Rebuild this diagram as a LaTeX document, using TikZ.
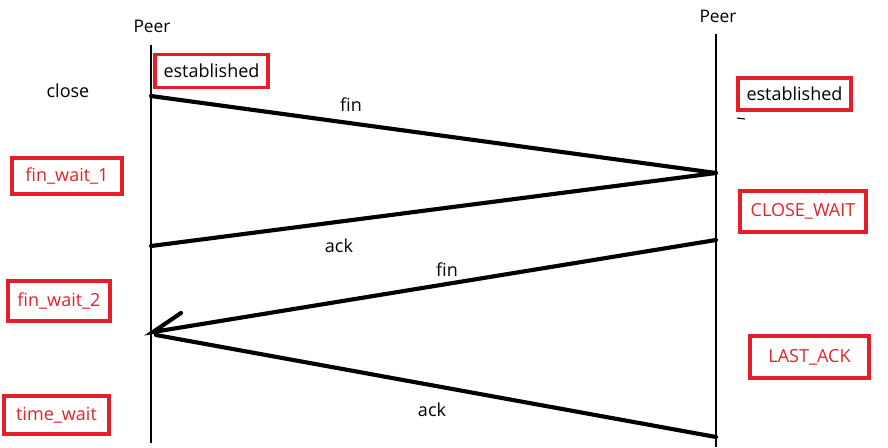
\documentclass[tikz,border=0pt]{standalone}
\usepackage{fontspec}
\setmainfont{Open Sans}
\begin{document}
\begin{tikzpicture}[x=0.75pt,y=-0.75pt,
  rbox/.style={draw=boxred,line width=2.4pt,minimum width=#1,inner sep=0pt},
  lifeline/.style={line width=2.2pt,black},
  msg/.style={line width=3.1pt,black,line cap=round},
  lbl/.style={font=\fontsize{13.5}{16}\selectfont,inner sep=0pt},
  redtxt/.style={text=txtred,font=\fontsize{13.5}{16}\selectfont},
  blktxt/.style={text=black,font=\fontsize{13.5}{16}\selectfont}]
\definecolor{boxred}{HTML}{E3202A}
\definecolor{txtred}{HTML}{E0242C}
\useasboundingbox (0,0) rectangle (888,447);
% lifelines
\coordinate (lt) at (151,45);
\coordinate (lb) at (151,443);
\coordinate (rt) at (716,34);
\coordinate (rb) at (716,447);
\draw[lifeline] (lt) -- (lb);
\draw[lifeline] (rt) -- (rb);
\node[lbl,font=\fontsize{13}{15}\selectfont] (peerL) at (152,26) {Peer};
\node[lbl,font=\fontsize{13}{15}\selectfont] (peerR) at (718,16) {Peer};
\node[lbl] (close) at (68,91) {close};
% state boxes
\node[rbox=113pt*0.75,minimum height=33*0.75pt,blktxt] (estL) at (211.5,71) {established};
\node[rbox=113pt*0.75,minimum height=32*0.75pt,blktxt] (estR) at (794.5,94) {established};
\node[rbox=126pt*0.75,minimum height=41*0.75pt,redtxt] (cw) at (803,211.5) {CLOSE\_WAIT};
\node[rbox=110pt*0.75,minimum height=36*0.75pt,redtxt] (fw1) at (67,176) {fin\_wait\_1};
\node[rbox=102pt*0.75,minimum height=40*0.75pt,redtxt] (fw2) at (59,301) {fin\_wait\_2};
\node[rbox=105pt*0.75,minimum height=38*0.75pt,redtxt] (tw) at (56.5,415) {time\_wait};
\node[rbox=119pt*0.75,minimum height=42*0.75pt,redtxt] (la) at (809.5,357) {LAST\_ACK};
% small mark
\coordinate (m1) at (737,118);
\coordinate (m2) at (745,119);
\draw[line width=0.8pt] (m1) -- (m2);
% messages
\coordinate (a1) at (151,96);
\coordinate (b1) at (716,173);
\coordinate (a2) at (151,246);
\coordinate (b2) at (716,240);
\coordinate (a3) at (153,332);
\coordinate (barb) at (181,313);
\coordinate (a4) at (156,335);
\coordinate (b4) at (716,437);
\draw[msg] (a1) -- (b1);
\draw[msg] (b1) -- (a2);
\draw[msg] (b2) -- (a3) -- (barb);
\draw[msg] (a4) -- (b4);
\node[lbl] (fin1) at (351,105) {fin};
\node[lbl] (ack1) at (339,246) {ack};
\node[lbl] (fin2) at (447,270) {fin};
\node[lbl] (ack2) at (432,410) {ack};
\end{tikzpicture}
\end{document}
